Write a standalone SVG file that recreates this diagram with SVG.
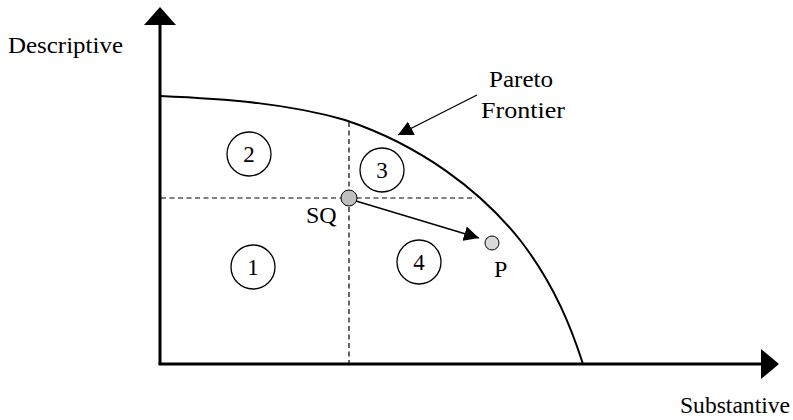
<svg xmlns="http://www.w3.org/2000/svg" width="793" height="420" viewBox="0 0 793 420">
<style>
.ax{stroke:#000;stroke-width:3;fill:none}
.dash{stroke:#000;stroke-width:1.2;stroke-dasharray:5,3.5;fill:none}
.reg{fill:#fff;stroke:#000;stroke-width:1.3}
.num{text-anchor:middle;font-size:23px}
</style>
<defs>
<marker id="ah" viewBox="0 0 10 10" refX="10" refY="5" markerWidth="15" markerHeight="15" markerUnits="userSpaceOnUse" orient="auto">
<path d="M0,0 L10,5 L0,10 Z" fill="#000"/>
</marker>
</defs>
<rect width="793" height="420" fill="#fff"/>
<g font-family="'Liberation Serif', 'Times New Roman', 'DejaVu Serif', serif" font-size="24" fill="#000">
<g id="axes">
<line class="ax" x1="160" y1="24" x2="160" y2="364"/>
<line class="ax" x1="158.5" y1="364" x2="762" y2="364"/>
<path d="M160,7 L176,25 L144,25 Z" fill="#000"/>
<path d="M779,364 L761,349 L761,379 Z" fill="#000"/>
<text x="8" y="53" textLength="115" lengthAdjust="spacingAndGlyphs">Descriptive</text>
<text x="680" y="413" textLength="110" lengthAdjust="spacingAndGlyphs">Substantive</text>
</g>
<g id="frontier">
<path d="M160,96 C230,99 290,104 345,120 C420,145 480,190 520,240 C555,285 572,330 583,364" fill="none" stroke="#000" stroke-width="2"/>
</g>
<g id="connectors">
<line class="dash" x1="349" y1="122" x2="349" y2="363"/>
<line class="dash" x1="161" y1="198" x2="476" y2="198"/>
<line x1="356" y1="201" x2="479" y2="238" stroke="#000" stroke-width="1.4" marker-end="url(#ah)"/>
<line x1="477" y1="95" x2="398" y2="135" stroke="#000" stroke-width="1.4" marker-end="url(#ah)"/>
</g>
<g id="region1"><circle class="reg" cx="253" cy="267" r="22"/><text class="num" x="253" y="275">1</text></g>
<g id="region2"><circle class="reg" cx="249" cy="154" r="22"/><text class="num" x="249" y="162">2</text></g>
<g id="region3"><circle class="reg" cx="382" cy="170" r="22"/><text class="num" x="382" y="178">3</text></g>
<g id="region4"><circle class="reg" cx="419" cy="262" r="22"/><text class="num" x="419" y="270">4</text></g>
<g id="sq"><circle cx="349" cy="198" r="8" fill="#bfbfbf" stroke="#000" stroke-width="1"/><text x="306" y="223">SQ</text></g>
<g id="p"><circle cx="492" cy="243" r="7" fill="#d9d9d9" stroke="#000" stroke-width="1"/><text x="494" y="277">P</text></g>
<g id="pareto-label">
<text x="489" y="87" textLength="64" lengthAdjust="spacingAndGlyphs">Pareto</text>
<text x="481" y="118" textLength="84" lengthAdjust="spacingAndGlyphs">Frontier</text>
</g>
</g>
</svg>
